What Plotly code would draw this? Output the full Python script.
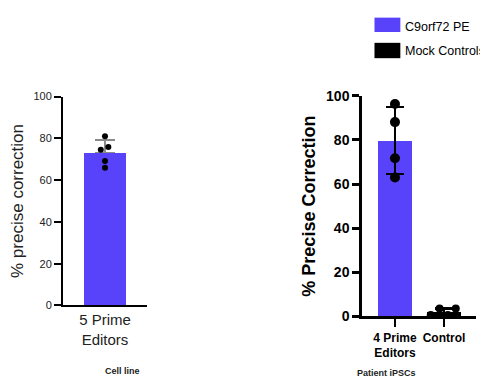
import plotly.graph_objects as go

# Cell line panel (left)
cell_category = ["5 Prime<br>Editors"]
cell_points = [81.0, 74.5, 75.8, 69.1, 65.9]
cell_mean = [73.3]
cell_sd = [5.9]

# Patient iPSC panel (right)
ipsc_categories = ["4 Prime<br>Editors", "Control"]
pe_points = [96.3, 88.1, 71.7, 63.0]
ctrl_points = [0.6, 3.6, 0.6, 3.6]
ipsc_means = [79.8, 2.1]
ipsc_sds = [15.2, 1.5]

y_ticks = [0, 20, 40, 60, 80, 100]

BLUE = "#5843fb"
FONT = "Liberation Sans, Arial, sans-serif"

# horizontal jitter of the dots (style only)
cell_jitter = [0, -0.1, 0.08, 0, 0]
ctrl_jitter = [-0.27, -0.09, 0.08, 0.24]

fig = go.Figure()

# left panel
fig.add_trace(go.Bar(
    x=[0], y=cell_mean, width=1, marker=dict(color=BLUE, line=dict(width=0)),
    error_y=dict(type="data", array=cell_sd, arrayminus=[0], symmetric=False,
                 color="#8a8a8a", thickness=1.2, width=10),
    xaxis="x", yaxis="y", showlegend=False,
))
fig.add_trace(go.Scatter(
    x=cell_jitter, y=cell_points, mode="markers",
    marker=dict(color="black", size=6), xaxis="x", yaxis="y", showlegend=False,
))

# right panel
fig.add_trace(go.Bar(
    x=[0, 1], y=ipsc_means, width=0.68,
    marker=dict(color=[BLUE, "black"], line=dict(width=0)),
    error_y=dict(type="data", array=ipsc_sds, color="black", thickness=2.5, width=9),
    xaxis="x2", yaxis="y2", showlegend=False,
))
fig.add_trace(go.Scatter(
    x=[0] * len(pe_points), y=pe_points, mode="markers",
    marker=dict(color="black", size=10), xaxis="x2", yaxis="y2", showlegend=False,
))
fig.add_trace(go.Scatter(
    x=[1 + j for j in ctrl_jitter], y=ctrl_points, mode="markers",
    marker=dict(color="black", size=8), xaxis="x2", yaxis="y2", showlegend=False,
))

fig.update_layout(
    width=488, height=385,
    margin=dict(l=0, r=0, t=0, b=0),
    paper_bgcolor="white", plot_bgcolor="white",
    font=dict(family=FONT, color="black"),
    bargap=0,
    xaxis=dict(
        domain=[0.1127, 0.2848], range=[-1, 1],
        tickvals=[0], ticktext=cell_category, ticks="",
        tickfont=dict(size=15, color="#222"), showline=True, linecolor="black", linewidth=2,
        showgrid=False, zeroline=False, anchor="y",
    ),
    yaxis=dict(
        domain=[0.2156, 0.7818], range=[0, 100],
        tickvals=y_ticks, ticks="outside", ticklen=7, tickwidth=2, tickcolor="black",
        tickfont=dict(size=11, color="#222"), showline=True, linecolor="black", linewidth=2,
        showgrid=False, zeroline=False, anchor="x",
        title=dict(text="% precise correction", font=dict(size=17, color="#222"), standoff=6),
    ),
    xaxis2=dict(
        domain=[0.7254, 0.959], range=[-0.673, 1.653],
        tickvals=[0, 1], ticktext=ipsc_categories, ticks="outside", ticklen=8,
        tickwidth=2, tickcolor="black",
        tickfont=dict(size=12, weight="bold"),
        showline=True, linecolor="black", linewidth=2.5,
        showgrid=False, zeroline=False, anchor="y2",
    ),
    yaxis2=dict(
        domain=[0.186, 0.7836], range=[0, 100],
        tickvals=y_ticks, ticks="outside", ticklen=7, tickwidth=2.5, tickcolor="black",
        tickfont=dict(size=14, weight="bold"),
        showline=True, linecolor="black", linewidth=2.5,
        showgrid=False, zeroline=False, anchor="x2",
        title=dict(text="% Precise Correction",
                   font=dict(size=18, weight="bold"), standoff=6),
    ),
)

# legend drawn by hand (large keys)
fig.add_shape(type="rect", xref="paper", yref="paper", x0=0.751, x1=0.804,
              y0=0.9566, y1=0.9956, fillcolor=BLUE, line=dict(width=0))
fig.add_shape(type="rect", xref="paper", yref="paper", x0=0.751, x1=0.804,
              y0=0.8857, y1=0.9273, fillcolor="black", line=dict(width=0))
fig.add_annotation(text="C9orf72 PE", xref="paper", yref="paper", x=0.812, y=0.969,
                   xanchor="left", yanchor="middle", showarrow=False, borderpad=0,
                   font=dict(size=12.5))
fig.add_annotation(text="Mock Controls", xref="paper", yref="paper", x=0.812, y=0.905,
                   xanchor="left", yanchor="middle", showarrow=False, borderpad=0,
                   font=dict(size=12.5))

# group labels under each panel
fig.add_annotation(text="Cell line", xref="paper", yref="paper", x=95 / 488, y=1 - 370 / 385,
                   showarrow=False, yanchor="middle",
                   font=dict(size=9, weight="bold", color="#222"))
fig.add_annotation(text="Patient iPSCs", xref="paper", yref="paper", x=410 / 488, y=1 - 373 / 385,
                   showarrow=False, yanchor="middle",
                   font=dict(size=9, weight="bold", color="#222"))

fig.write_html("out.html")
